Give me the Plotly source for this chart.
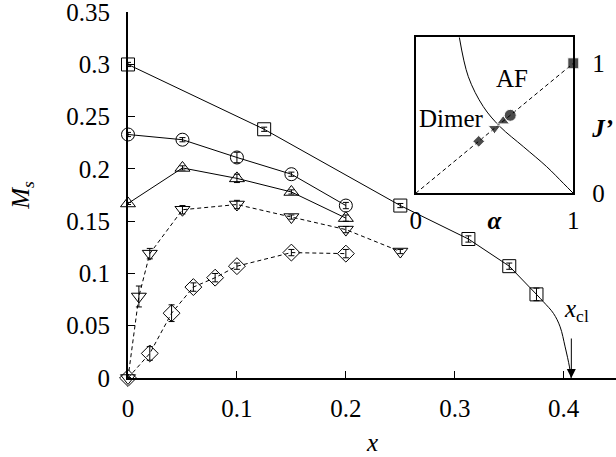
import plotly.graph_objects as go

# ---------------- data ----------------
sq_x = [0, 0.125, 0.25, 0.3125, 0.35, 0.375]
sq_y = [0.300, 0.238, 0.165, 0.133, 0.107, 0.080]
sq_err = [0.002, 0.002, 0.002, 0.003, 0.003, 0.006]

ci_x = [0, 0.05, 0.1, 0.15, 0.2]
ci_y = [0.233, 0.228, 0.211, 0.195, 0.165]
ci_err = [0.002, 0.002, 0.005, 0.002, 0.003]

tu_x = [0, 0.05, 0.1, 0.15, 0.2]
tu_y = [0.167, 0.201, 0.191, 0.178, 0.153]
tu_err = [0.001, 0.002, 0.004, 0.002, 0.003]

td_x = [0, 0.01, 0.02, 0.05, 0.1, 0.15, 0.2, 0.25]
td_y = [0.0, 0.078, 0.119, 0.161, 0.166, 0.154, 0.142, 0.121]
td_err = [0.0, 0.010, 0.005, 0.004, 0.004, 0.002, 0.003, 0.002]

di_x = [0, 0.02, 0.04, 0.06, 0.08, 0.1, 0.15, 0.2]
di_y = [0.0, 0.0235, 0.062, 0.087, 0.096, 0.107, 0.120, 0.119]
di_err = [0.0, 0.0065, 0.008, 0.004, 0.004, 0.003, 0.003, 0.004]

# extrapolated curve down to x_cl
cl_x = [0.375, 0.3814, 0.3906, 0.3967, 0.4013, 0.4053, 0.4068]
cl_y = [0.080, 0.0729, 0.0618, 0.049, 0.0298, 0.0106, 0.0]
x_cl = 0.407

x_ticks = [0, 0.1, 0.2, 0.3, 0.4]
x_ticktext = ["0", "0.1", "0.2", "0.3", "0.4"]
y_ticks = [0, 0.05, 0.1, 0.15, 0.2, 0.25, 0.3, 0.35]
y_ticktext = ["0", "0.05", "0.1", "0.15", "0.2", "0.25", "0.3", "0.35"]

# inset: phase diagram
bd_alpha = [0.277, 0.334, 0.429, 0.535, 0.683, 0.831, 0.937, 1.0]
bd_J = [1.2, 0.897, 0.667, 0.513, 0.359, 0.205, 0.077, 0.0]
diag_alpha = [0, 1]
diag_J = [0, 1]
pt_alpha = [1.0, 0.6, 0.555, 0.5, 0.4]
pt_J = [1.0, 0.6, 0.555, 0.5, 0.4]
pt_symbols = ["square", "circle", "triangle-up", "triangle-down", "diamond"]
pt_sizes = [11, 12, 11, 11, 9]

FONT = "Liberation Serif"
BLACK = "black"
FS = 25

fig = go.Figure()


def add_series(x, y, err, symbol, dash, size=12):
    fig.add_trace(go.Scatter(
        x=x, y=y, mode="lines+markers",
        line=dict(color=BLACK, width=1, dash=dash),
        marker=dict(symbol=symbol, size=size, color=BLACK,
                    line=dict(color=BLACK, width=1)),
        error_y=dict(type="data", array=err, color=BLACK, thickness=1, width=3),
        cliponaxis=False, showlegend=False,
    ))


add_series(sq_x, sq_y, sq_err, "square-open", "solid", 13)
add_series(ci_x, ci_y, ci_err, "circle-open", "solid", 13)
add_series(tu_x, tu_y, tu_err, "triangle-up-open", "solid", 13)
add_series(td_x, td_y, td_err, "triangle-down-open", "4px,3px", 13)
add_series(di_x, di_y, di_err, "diamond-open", "4px,3px", 13)

fig.add_trace(go.Scatter(
    x=cl_x, y=cl_y, mode="lines",
    line=dict(color=BLACK, width=1, shape="spline"),
    showlegend=False, cliponaxis=False,
))

# inset traces
fig.add_trace(go.Scatter(
    x=diag_alpha, y=diag_J, mode="lines", xaxis="x3", yaxis="y3",
    line=dict(color=BLACK, width=1, dash="4px,3px"), showlegend=False,
))
fig.add_trace(go.Scatter(
    x=bd_alpha, y=bd_J, mode="lines", xaxis="x3", yaxis="y3",
    line=dict(color=BLACK, width=1, shape="spline"), showlegend=False,
))
fig.add_trace(go.Scatter(
    x=pt_alpha, y=pt_J, mode="markers", xaxis="x3", yaxis="y3",
    marker=dict(symbol=pt_symbols, size=pt_sizes, color=BLACK),
    cliponaxis=False, showlegend=False,
))

tickfont = dict(family=FONT, size=FS, color=BLACK)

fig.update_layout(
    width=616, height=457,
    margin=dict(l=128, r=0, t=12, b=79, autoexpand=False),
    paper_bgcolor="white", plot_bgcolor="white",
    font=dict(family=FONT, size=FS, color=BLACK),
    showlegend=False,
    xaxis=dict(
        range=[0, 0.448], tickvals=x_ticks, ticktext=x_ticktext,
        ticks="inside", ticklen=7, tickwidth=1, tickcolor=BLACK,
        showline=True, linewidth=2, linecolor=BLACK,
        showgrid=False, zeroline=False, tickfont=tickfont,
        ticklabelstandoff=7, ticklabeloverflow="allow",
    ),
    yaxis=dict(
        range=[0, 0.3502], tickvals=y_ticks, ticktext=y_ticktext,
        ticks="inside", ticklen=7, tickwidth=1, tickcolor=BLACK,
        showline=True, linewidth=2, linecolor=BLACK,
        showgrid=False, zeroline=False, tickfont=tickfont,
        ticklabelstandoff=11, ticklabeloverflow="allow",
        title=dict(text="<i>M<sub>s</sub></i>", font=dict(family=FONT, size=FS, color=BLACK), standoff=30),
    ),
    xaxis2=dict(
        overlaying="x", matches="x", side="top", anchor="y",
        tickvals=x_ticks, ticks="inside", ticklen=7, tickwidth=1, tickcolor=BLACK,
        showticklabels=False, showline=True, linewidth=2, linecolor=BLACK,
        showgrid=False, zeroline=False,
    ),
    yaxis2=dict(
        overlaying="y", matches="y", side="right", anchor="x",
        tickvals=y_ticks, ticks="inside", ticklen=7, tickwidth=1, tickcolor=BLACK,
        showticklabels=False, showline=False,
        showgrid=False, zeroline=False,
    ),
    xaxis3=dict(
        domain=[0.5895, 0.9125], anchor="y3", range=[0, 1],
        tickvals=[0, 0.5, 1], ticktext=["0", "<b><i>α</i></b>", "1"],
        ticks="", showline=True, mirror=True, linewidth=2, linecolor=BLACK,
        showgrid=False, zeroline=False, tickfont=tickfont,
        ticklabelstandoff=4, ticklabeloverflow="allow",
    ),
    yaxis3=dict(
        domain=[0.5046, 0.9309], anchor="x3", range=[0, 1.2], side="right",
        tickvals=[0, 0.5, 1], ticktext=["0", "<b><i>J’</i></b>", "1"],
        ticks="", showline=True, mirror=True, linewidth=2, linecolor=BLACK,
        showgrid=False, zeroline=False, tickfont=tickfont,
        ticklabelstandoff=12, ticklabeloverflow="allow",
    ),
    annotations=[
        dict(x=0.5, y=-0.2158, xref="paper", yref="paper", text="<i>x</i>",
             showarrow=False, xanchor="center", yanchor="bottom", borderpad=0,
             font=dict(family=FONT, size=FS, color=BLACK)),
        dict(x=0.609, y=0.885, xref="x3", yref="y3", text="AF", showarrow=False,
             font=dict(family=FONT, size=FS, color=BLACK)),
        dict(x=0.228, y=0.577, xref="x3", yref="y3", text="Dimer", showarrow=False,
             font=dict(family=FONT, size=FS, color=BLACK)),
        dict(x=0.4114, y=0.065, xref="x", yref="y",
             text="<i>x</i><sub>cl</sub>", showarrow=False,
             font=dict(family=FONT, size=FS, color=BLACK)),
        dict(x=x_cl, y=0, xref="x", yref="y", text="", showarrow=True,
             ax=0, ay=-41, arrowhead=2, arrowsize=1.8, arrowwidth=1,
             arrowcolor=BLACK),
    ],
)

fig.write_html("out.html")
